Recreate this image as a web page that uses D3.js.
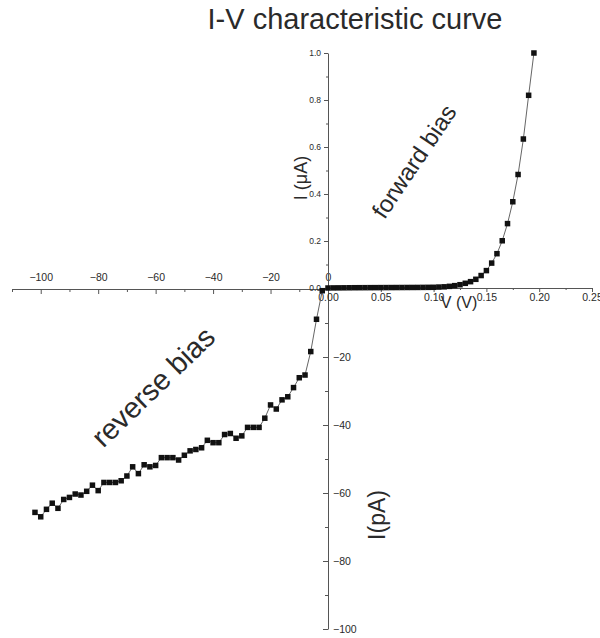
<!DOCTYPE html>
<html>
<head>
<meta charset="utf-8">
<script src="https://cdn.jsdelivr.net/npm/d3@7"></script>
<style>
  body { margin: 0; background: #fff; }
  svg text { font-family: "Liberation Sans", Arial, sans-serif; fill: #2a2a2a; }
  .axis path, .axis line { stroke: #555; }
</style>
</head>
<body>
<svg id="chart" width="600" height="638"></svg>
<script>
// forward bias: V in volts, I in microamps
const vForward = [0, 0.005, 0.01, 0.015, 0.02, 0.025, 0.03, 0.035, 0.04, 0.045,
  0.05, 0.055, 0.06, 0.065, 0.07, 0.075, 0.08, 0.085, 0.09, 0.095,
  0.1, 0.105, 0.11, 0.115, 0.12, 0.125, 0.13, 0.135, 0.14, 0.145,
  0.15, 0.155, 0.16, 0.165, 0.17, 0.175, 0.18, 0.185, 0.19, 0.195];
const iForward = [0, 0.0004, 0.0006, 0.0008, 0.001, 0.0012, 0.0013, 0.0014, 0.0015, 0.0016,
  0.0017, 0.0018, 0.0019, 0.002, 0.0021, 0.0022, 0.0023, 0.0024, 0.0026, 0.0028,
  0.003, 0.004, 0.005, 0.007, 0.010, 0.014, 0.020, 0.027, 0.037, 0.053,
  0.074, 0.106, 0.146, 0.201, 0.274, 0.367, 0.483, 0.634, 0.82, 1.0];

// reverse bias: V in volts, I in picoamps
const vReverse = [-102, -100, -98, -96, -94, -92, -90, -88, -86, -84,
  -82, -80, -78, -76, -74, -72, -70, -68, -66, -64,
  -62, -60, -58, -56, -54, -52, -50, -48, -46, -44,
  -42, -40, -38, -36, -34, -32, -30, -28, -26, -24,
  -22, -20, -18, -16, -14, -12, -10, -8, -6, -4, -2];
const iReverse = [-65.7, -67.0, -64.8, -63.0, -64.5, -61.9, -61.3, -60.3, -60.6, -59.5,
  -57.7, -59.3, -56.9, -56.9, -56.9, -56.4, -55.0, -52.3, -54.3, -51.7,
  -52.3, -51.9, -49.6, -49.6, -49.6, -50.3, -48.9, -47.6, -47.2, -46.7,
  -44.5, -45.2, -45.2, -42.8, -42.5, -43.9, -43.2, -40.7, -40.7, -40.7,
  -38.0, -34.1, -35.3, -32.6, -31.7, -29.0, -26.1, -25.3, -18.4, -8.9, -0.5];

const fwdXTicks = [0, 0.05, 0.1, 0.15, 0.2, 0.25];
const fwdXMinor = [0.025, 0.075, 0.125, 0.175, 0.225];
const fwdYTicks = [0, 0.2, 0.4, 0.6, 0.8, 1.0];
const fwdYMinor = [0.1, 0.3, 0.5, 0.7, 0.9];
const revXTicks = [-100, -80, -60, -40, -20, 0];
const revXMinor = [-110, -90, -70, -50, -30, -10];
const revYTicks = [-20, -40, -60, -80, -100];
const revYMinor = [-10, -30, -50, -70, -90];

const svg = d3.select("#chart");

const xF = d3.scaleLinear().domain([0, 0.25]).range([328, 592]);
const yF = d3.scaleLinear().domain([0, 1]).range([288, 53]);
const xR = d3.scaleLinear().domain([-110, 0]).range([12, 328]);
const yR = d3.scaleLinear().domain([-100, 0]).range([629, 289]);

const forward = vForward.map((v, i) => ({ x: v, y: iForward[i] }));
const reverse = vReverse.map((v, i) => ({ x: v, y: iReverse[i] }));

// title
svg.append("text")
  .attr("x", 355)
  .attr("y", 29)
  .attr("text-anchor", "middle")
  .attr("font-size", 29)
  .text("I-V characteristic curve");

// ---- reverse axes ----
const revX = svg.append("g")
  .attr("class", "axis")
  .attr("transform", `translate(0,${yR(0)})`)
  .call(d3.axisTop(xR).tickValues(revXTicks).tickSizeInner(-5).tickSizeOuter(0).tickPadding(8));
revX.selectAll("text").attr("font-size", 10.5);

svg.append("g")
  .attr("class", "axis")
  .attr("transform", `translate(0,${yR(0)})`)
  .call(d3.axisTop(xR).tickValues(revXMinor).tickSize(-3).tickFormat(""))
  .call(g => g.select(".domain").remove());

const revY = svg.append("g")
  .attr("class", "axis")
  .attr("transform", `translate(${xR(0)},0)`)
  .call(d3.axisRight(yR).tickValues(revYTicks).tickSizeInner(-5).tickSizeOuter(0).tickPadding(5));
revY.selectAll("text").attr("font-size", 10.5);

svg.append("g")
  .attr("class", "axis")
  .attr("transform", `translate(${xR(0)},0)`)
  .call(d3.axisRight(yR).tickValues(revYMinor).tickSize(-3).tickFormat(""))
  .call(g => g.select(".domain").remove());

// ---- forward axes ----
const fwdX = svg.append("g")
  .attr("class", "axis")
  .attr("transform", `translate(0,${yF(0)})`)
  .call(d3.axisBottom(xF).tickValues(fwdXTicks).tickFormat(d3.format(".2f")).tickSizeInner(4).tickSizeOuter(0).tickPadding(2));
fwdX.selectAll("text").attr("font-size", 10.5);

svg.append("g")
  .attr("class", "axis")
  .attr("transform", `translate(0,${yF(0)})`)
  .call(d3.axisBottom(xF).tickValues(fwdXMinor).tickSize(2).tickFormat(""))
  .call(g => g.select(".domain").remove());

const fwdY = svg.append("g")
  .attr("class", "axis")
  .attr("transform", `translate(${xF(0)},0)`)
  .call(d3.axisLeft(yF).tickValues(fwdYTicks).tickFormat(d3.format(".1f")).tickSizeInner(4).tickSizeOuter(0).tickPadding(3));
fwdY.selectAll("text").attr("font-size", 8.5);

svg.append("g")
  .attr("class", "axis")
  .attr("transform", `translate(${xF(0)},0)`)
  .call(d3.axisLeft(yF).tickValues(fwdYMinor).tickSize(2).tickFormat(""))
  .call(g => g.select(".domain").remove());

// axis titles
svg.append("text")
  .attr("x", 459)
  .attr("y", 308)
  .attr("text-anchor", "middle")
  .attr("font-size", 16)
  .text("V (V)");

svg.append("text")
  .attr("transform", "translate(307,178) rotate(-90)")
  .attr("text-anchor", "middle")
  .attr("font-size", 18)
  .text("I (\u03bcA)");

svg.append("text")
  .attr("transform", "translate(385,515) rotate(-90)")
  .attr("text-anchor", "middle")
  .attr("font-size", 23)
  .text("I(pA)");

// annotations
svg.append("text")
  .attr("transform", "translate(421,166) rotate(-56)")
  .attr("text-anchor", "middle")
  .attr("font-size", 24)
  .text("forward bias");

svg.append("text")
  .attr("transform", "translate(160,394) rotate(-44)")
  .attr("text-anchor", "middle")
  .attr("font-size", 29)
  .text("reverse bias");

// ---- data ----
const lineF = d3.line().x(d => xF(d.x)).y(d => yF(d.y));
const lineR = d3.line().x(d => xR(d.x)).y(d => yR(d.y));

svg.append("path")
  .datum(forward)
  .attr("d", lineF)
  .attr("fill", "none")
  .attr("stroke", "#666")
  .attr("stroke-width", 1);

svg.append("path")
  .datum(reverse)
  .attr("d", lineR)
  .attr("fill", "none")
  .attr("stroke", "#666")
  .attr("stroke-width", 1);

const size = 5.5;

svg.append("g")
  .selectAll("rect")
  .data(forward)
  .join("rect")
  .attr("x", d => xF(d.x) - size / 2)
  .attr("y", d => yF(d.y) - size / 2)
  .attr("width", size)
  .attr("height", size)
  .attr("fill", "#111");

svg.append("g")
  .selectAll("rect")
  .data(reverse)
  .join("rect")
  .attr("x", d => xR(d.x) - size / 2)
  .attr("y", d => yR(d.y) - size / 2)
  .attr("width", size)
  .attr("height", size)
  .attr("fill", "#111");
</script>
</body>
</html>
